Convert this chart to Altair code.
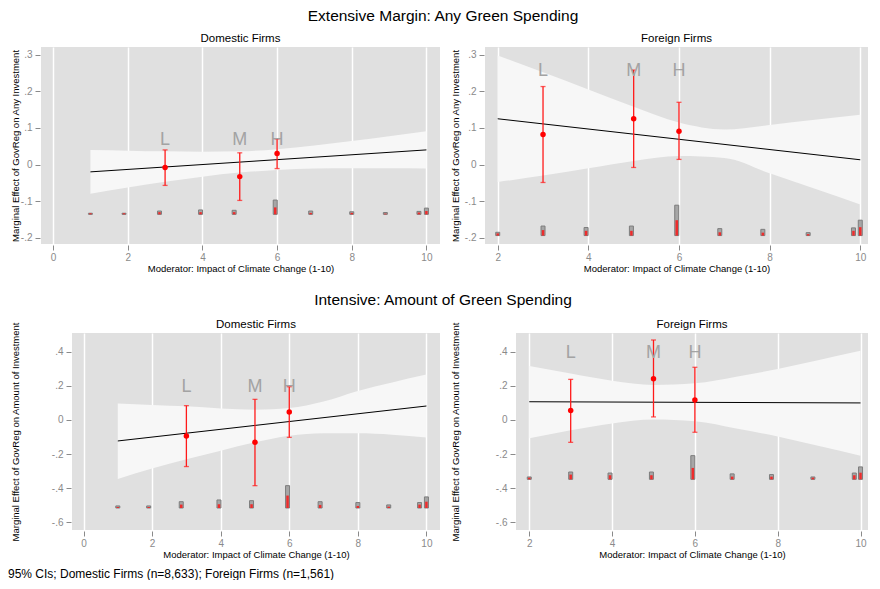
import altair as alt
import pandas as pd

FONT = "Liberation Sans"

# ---------------- data ----------------
MODERATOR = [1, 2, 3, 4, 5, 6, 7, 8, 9, 10]
MODERATOR_F = [2, 3, 4, 5, 6, 7, 8, 9, 10]
LMH = ["L", "M", "H"]
LMH_X = [3, 5, 6]

# Extensive margin, domestic firms
EXT_DOM_LINE_X = [1, 10]
EXT_DOM_LINE_Y = [-0.020, 0.040]
EXT_DOM_BAND_LO = [-0.080, -0.063, -0.047, -0.033, -0.022, -0.015, -0.011, -0.010, -0.010, -0.011]
EXT_DOM_BAND_HI = [0.040, 0.038, 0.036, 0.035, 0.036, 0.042, 0.052, 0.064, 0.077, 0.091]
EXT_DOM_PT = [-0.008, -0.033, 0.030]
EXT_DOM_PT_LO = [-0.057, -0.098, -0.011]
EXT_DOM_PT_HI = [0.040, 0.032, 0.070]
EXT_DOM_LAB_Y = 0.066
EXT_DOM_HIST_X = [1.0, 1.9, 2.85, 3.95, 4.85, 5.95, 6.9, 8.0, 8.9, 9.8, 10.0]
EXT_DOM_HIST_GRAY = [-0.133, -0.133, -0.127, -0.124, -0.125, -0.097, -0.127, -0.129, -0.131, -0.128, -0.119]
EXT_DOM_HIST_RED = [-0.133, -0.133, -0.130, -0.130, -0.130, -0.117, -0.132, -0.132, -0.134, -0.131, -0.127]
EXT_DOM_HIST_BASE = -0.136

# Extensive margin, foreign firms
EXT_FOR_LINE_X = [2, 10]
EXT_FOR_LINE_Y = [0.125, 0.013]
EXT_FOR_BAND_LO = [-0.048, -0.030, -0.010, 0.010, 0.023, 0.018, -0.024, -0.066, -0.109]
EXT_FOR_BAND_HI = [0.298, 0.252, 0.205, 0.158, 0.115, 0.096, 0.108, 0.122, 0.136]
EXT_FOR_PT = [0.082, 0.125, 0.091]
EXT_FOR_PT_LO = [-0.049, -0.008, 0.014]
EXT_FOR_PT_HI = [0.213, 0.258, 0.170]
EXT_FOR_LAB_Y = 0.255
EXT_FOR_HIST_X = [2.0, 3.0, 3.95, 4.95, 5.95, 6.9, 7.85, 8.85, 9.85, 10.0]
EXT_FOR_HIST_GRAY = [-0.185, -0.168, -0.172, -0.168, -0.111, -0.175, -0.177, -0.186, -0.173, -0.152]
EXT_FOR_HIST_RED = [-0.188, -0.179, -0.181, -0.181, -0.152, -0.185, -0.186, -0.190, -0.181, -0.171]
EXT_FOR_HIST_BASE = -0.194

# Intensive margin, domestic firms
INT_DOM_LINE_X = [1, 10]
INT_DOM_LINE_Y = [-0.123, 0.082]
INT_DOM_BAND_LO = [-0.346, -0.285, -0.230, -0.180, -0.131, -0.092, -0.078, -0.078, -0.086, -0.102]
INT_DOM_BAND_HI = [0.096, 0.088, 0.080, 0.067, 0.060, 0.070, 0.108, 0.170, 0.220, 0.266]
INT_DOM_PT = [-0.094, -0.131, 0.047]
INT_DOM_PT_LO = [-0.273, -0.385, -0.102]
INT_DOM_PT_HI = [0.084, 0.121, 0.195]
INT_DOM_LAB_Y = 0.195
INT_DOM_HIST_X = [1.0, 1.9, 2.85, 3.95, 4.9, 5.95, 6.9, 8.0, 8.9, 9.8, 10.0]
INT_DOM_HIST_GRAY = [-0.504, -0.504, -0.479, -0.469, -0.473, -0.385, -0.479, -0.484, -0.498, -0.484, -0.451]
INT_DOM_HIST_RED = [-0.510, -0.510, -0.496, -0.494, -0.494, -0.443, -0.498, -0.504, -0.508, -0.496, -0.479]
INT_DOM_HIST_BASE = -0.516

# Intensive margin, foreign firms
INT_FOR_LINE_X = [2, 10]
INT_FOR_LINE_Y = [0.107, 0.100]
INT_FOR_BAND_LO = [-0.107, -0.060, -0.020, 0.003, -0.008, -0.050, -0.097, -0.153, -0.209]
INT_FOR_BAND_HI = [0.316, 0.272, 0.230, 0.205, 0.215, 0.254, 0.299, 0.352, 0.406]
INT_FOR_PT = [0.055, 0.242, 0.117]
INT_FOR_PT_LO = [-0.131, 0.018, -0.072]
INT_FOR_PT_HI = [0.238, 0.469, 0.309]
INT_FOR_LAB_Y = 0.393
INT_FOR_HIST_X = [2.0, 3.0, 3.95, 4.95, 5.95, 6.9, 7.85, 8.85, 9.85, 10.0]
INT_FOR_HIST_GRAY = [-0.334, -0.305, -0.311, -0.305, -0.209, -0.316, -0.320, -0.334, -0.311, -0.275]
INT_FOR_HIST_RED = [-0.338, -0.320, -0.324, -0.324, -0.281, -0.332, -0.332, -0.338, -0.324, -0.309]
INT_FOR_HIST_BASE = -0.348

TITLE_EXT = "Extensive Margin: Any Green Spending"
TITLE_INT = "Intensive: Amount of Green Spending"
XTITLE = "Moderator: Impact of Climate Change (1-10)"
YTITLE_EXT = "Marginal Effect of GovReg on Any Investment"
YTITLE_INT = "Marginal Effect of GovReg on Amount of Investment"
FOOTNOTE = "95% CIs; Domestic Firms (n=8,633); Foreign Firms (n=1,561)"

YLABEL = ("datum.value == 0 ? '0' : (datum.value < 0 ? '-' : '') + "
          "replace(format(abs(datum.value), '.1f'), '0.', '.')")

PLOT_H = 197


def spacer(w):
    """Empty, invisible view used only to fix the horizontal layout."""
    return alt.Chart(pd.DataFrame({"v": [0.0]})).mark_point(
        size=0, strokeWidth=0, opacity=0).encode(
        x=alt.X("v:Q", axis=None), y=alt.Y("v:Q", axis=None)
    ).properties(width=w, height=PLOT_H,
                 view=alt.ViewBackground(fill="white", stroke="white", strokeWidth=0))


def make_panel(title, ytitle, band_x, band_lo, band_hi, line_x, line_y,
               pt_y, pt_lo, pt_hi, lab_y, hist_x, hist_gray, hist_red, hist_base,
               xdom, xticks, ydom, yticks, width, ypad, toff):
    band = pd.DataFrame({"x": band_x, "lo": band_lo, "hi": band_hi})
    line = pd.DataFrame({"x": line_x, "y": line_y})
    pts = pd.DataFrame({"x": LMH_X, "y": pt_y, "lo": pt_lo, "hi": pt_hi,
                        "lab": LMH, "laby": [lab_y] * 3})
    hist = pd.DataFrame({"x": hist_x, "gray": hist_gray, "red": hist_red,
                         "base": [hist_base] * len(hist_x)})

    xs = alt.Scale(domain=xdom, nice=False, zero=False)
    ys = alt.Scale(domain=ydom, nice=False, zero=False)
    xax = alt.Axis(values=xticks, title=XTITLE, grid=True, gridColor="white",
                   gridWidth=1.5, gridOpacity=1, domain=False, tickSize=5, offset=1,
                   labelPadding=2, titlePadding=1, format="d")
    yax = alt.Axis(values=yticks, title=ytitle, grid=False, domain=False,
                   tickSize=5, offset=1, labelPadding=3, minExtent=20,
                   maxExtent=20, titlePadding=ypad, labelExpr=YLABEL)

    def X(f="x"):
        return alt.X(f + ":Q", scale=xs, axis=xax)

    def Y(f):
        return alt.Y(f + ":Q", scale=ys, axis=yax)

    l_band = alt.Chart(band).mark_area(color="#f7f7f7", opacity=1,
                                       interpolate="monotone").encode(
        x=X(), y=Y("lo"), y2="hi")
    l_gray = alt.Chart(hist).mark_bar(fill="#a6a6a6", stroke="#7d7d7d",
                                      strokeWidth=1, size=4).encode(
        x=X(), y=Y("gray"), y2="base")
    l_red = alt.Chart(hist).mark_bar(fill="#ee2c2c", size=2.5).encode(
        x=X(), y=Y("red"), y2="base")
    l_line = alt.Chart(line).mark_line(color="black", strokeWidth=1).encode(
        x=X(), y=Y("y"))
    l_rule = alt.Chart(pts).mark_rule(color="#ff1a1a", strokeWidth=1.3).encode(
        x=X(), y=Y("lo"), y2="hi")
    l_cap_lo = alt.Chart(pts).mark_tick(color="#ff1a1a", orient="horizontal",
                                        size=5, thickness=1.3).encode(
        x=X(), y=Y("lo"))
    l_cap_hi = alt.Chart(pts).mark_tick(color="#ff1a1a", orient="horizontal",
                                        size=5, thickness=1.3).encode(
        x=X(), y=Y("hi"))
    l_pt = alt.Chart(pts).mark_circle(color="red", size=30, opacity=1).encode(
        x=X(), y=Y("y"))
    l_lab = alt.Chart(pts).mark_text(color="#a3a3a3", fontSize=18,
                                     font=FONT, baseline="middle").encode(
        x=X(), y=Y("laby"), text="lab:N")

    return alt.layer(l_band, l_gray, l_red, l_line, l_rule, l_cap_lo,
                     l_cap_hi, l_pt, l_lab).properties(
        width=width, height=PLOT_H,
        view=alt.ViewBackground(fill="#e0e0e0", stroke=None),
        title=alt.TitleParams(title, fontSize=11.5, fontWeight="normal",
                              font=FONT, offset=toff, color="black"))


p1 = make_panel("Domestic Firms", YTITLE_EXT, MODERATOR, EXT_DOM_BAND_LO,
                EXT_DOM_BAND_HI, EXT_DOM_LINE_X, EXT_DOM_LINE_Y, EXT_DOM_PT,
                EXT_DOM_PT_LO, EXT_DOM_PT_HI, EXT_DOM_LAB_Y, EXT_DOM_HIST_X,
                EXT_DOM_HIST_GRAY, EXT_DOM_HIST_RED, EXT_DOM_HIST_BASE,
                [-0.19, 10.23], [0, 2, 4, 6, 8, 10], [-0.217, 0.321],
                [-0.2, -0.1, 0, 0.1, 0.2, 0.3], 399, 0, 3)
p2 = make_panel("Foreign Firms", YTITLE_EXT, MODERATOR_F, EXT_FOR_BAND_LO,
                EXT_FOR_BAND_HI, EXT_FOR_LINE_X, EXT_FOR_LINE_Y, EXT_FOR_PT,
                EXT_FOR_PT_LO, EXT_FOR_PT_HI, EXT_FOR_LAB_Y, EXT_FOR_HIST_X,
                EXT_FOR_HIST_GRAY, EXT_FOR_HIST_RED, EXT_FOR_HIST_BASE,
                [1.83, 10.06], [2, 4, 6, 8, 10], [-0.217, 0.321],
                [-0.2, -0.1, 0, 0.1, 0.2, 0.3], 383, 4, 3)
p3 = make_panel("Domestic Firms", YTITLE_INT, MODERATOR, INT_DOM_BAND_LO,
                INT_DOM_BAND_HI, INT_DOM_LINE_X, INT_DOM_LINE_Y, INT_DOM_PT,
                INT_DOM_PT_LO, INT_DOM_PT_HI, INT_DOM_LAB_Y, INT_DOM_HIST_X,
                INT_DOM_HIST_GRAY, INT_DOM_HIST_RED, INT_DOM_HIST_BASE,
                [-0.19, 10.25], [0, 2, 4, 6, 8, 10], [-0.645, 0.51],
                [-0.6, -0.4, -0.2, 0, 0.2, 0.4], 368, 31, -8.5)
p4 = make_panel("Foreign Firms", YTITLE_INT, MODERATOR_F, INT_FOR_BAND_LO,
                INT_FOR_BAND_HI, INT_FOR_LINE_X, INT_FOR_LINE_Y, INT_FOR_PT,
                INT_FOR_PT_LO, INT_FOR_PT_HI, INT_FOR_LAB_Y, INT_FOR_HIST_X,
                INT_FOR_HIST_GRAY, INT_FOR_HIST_RED, INT_FOR_HIST_BASE,
                [1.8, 10.06], [2, 4, 6, 8, 10], [-0.645, 0.51],
                [-0.6, -0.4, -0.2, 0, 0.2, 0.4], 352, 35, -8.5)


def row(title, left, right, offset):
    return alt.hconcat(
        spacer(1), left, spacer(8), right, spacing=1,
        title=alt.TitleParams(title, anchor="middle", fontSize=15.5,
                              fontWeight="normal", font=FONT, offset=offset,
                              dx=5, color="black"))


row1 = row(TITLE_EXT, p1, p2, 8)
row2 = row(TITLE_INT, p3, p4, 10)

chart = alt.vconcat(row1, row2, spacing=20,
                    title=alt.TitleParams(FOOTNOTE, orient="bottom", anchor="start",
                                          fontSize=12, fontWeight="normal",
                                          font=FONT, offset=10, color="black")
                    ).properties(
    padding={"top": 1, "left": 0, "right": 0, "bottom": 0}
).configure_view(
    stroke=None
).configure_axis(
    labelFont=FONT, titleFont=FONT, labelFontSize=10, titleFontSize=9.5,
    labelColor="#8a8a8a", tickColor="#8a8a8a", titleColor="black",
    titleFontWeight="normal"
)

chart.save("out.html", embed_options={"renderer": "svg", "actions": False})
